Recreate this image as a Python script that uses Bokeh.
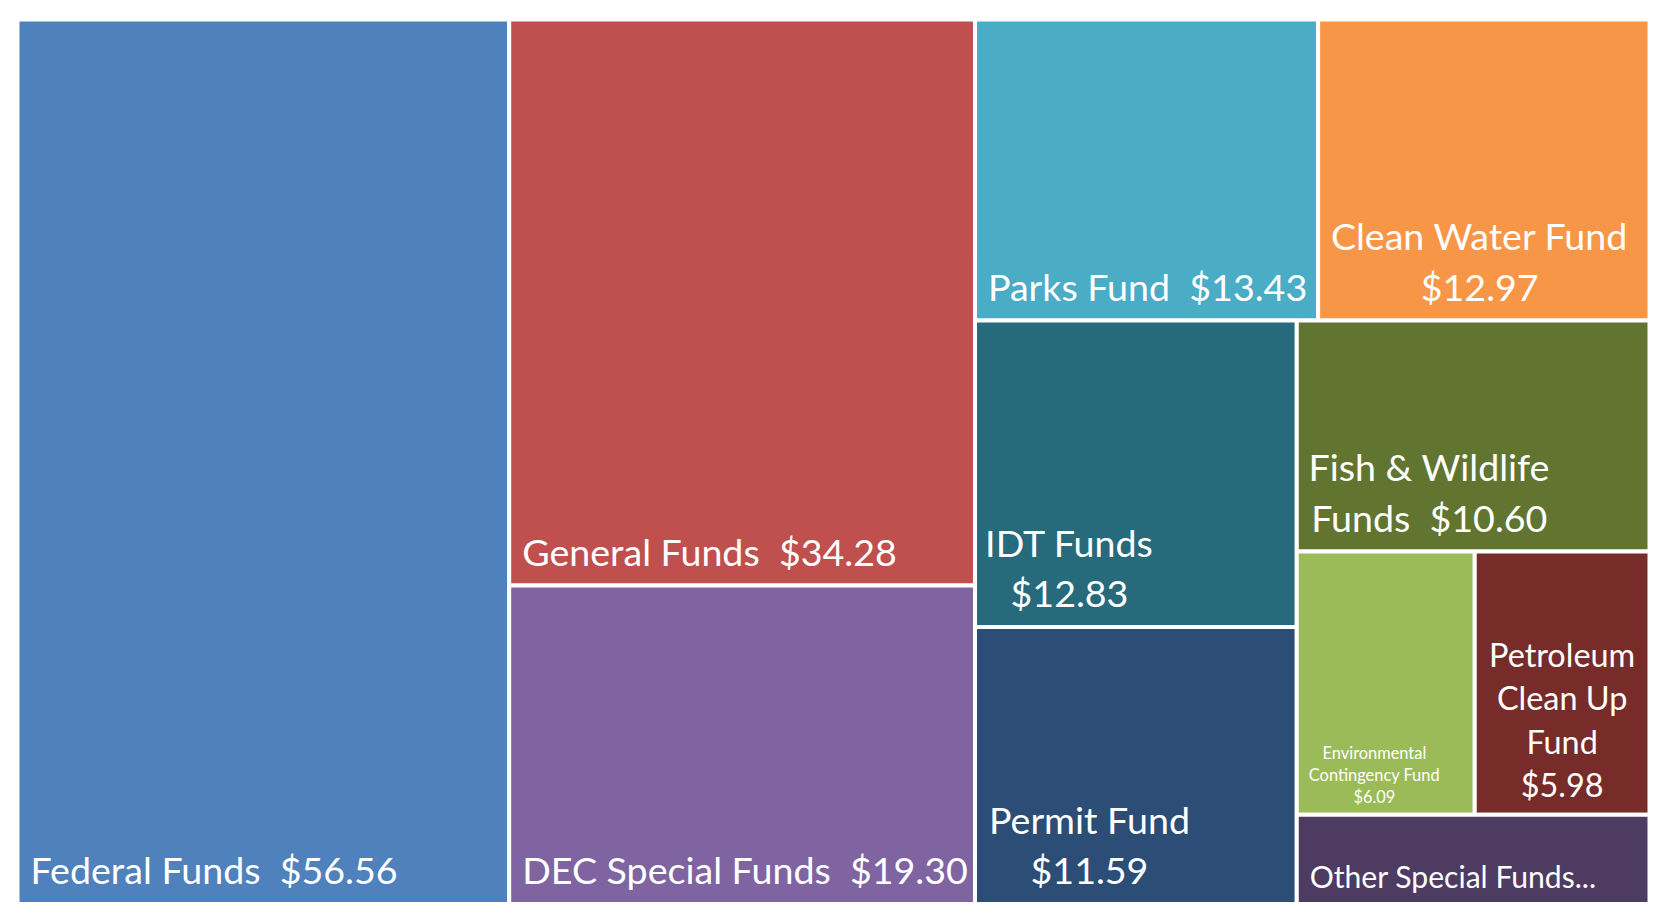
from bokeh.plotting import figure
from bokeh.models import ColumnDataSource, Range1d
from bokeh.embed import file_html
from bokeh.resources import INLINE
from bokeh.core.properties import value

# ---------------- data ----------------
fund_names = ["Federal Funds", "General Funds", "DEC Special Funds", "Parks Fund",
              "Clean Water Fund", "IDT Funds", "Permit Fund", "Fish & Wildlife Funds",
              "Environmental Contingency Fund", "Petroleum Clean Up Fund", "Other Special Funds"]
fund_values = [56.56, 34.28, 19.30, 13.43, 12.97, 12.83, 11.59, 10.60, 6.09, 5.98, 4.10]
# how each label is broken into lines in the chart
name_lines = [["Federal Funds"], ["General Funds"], ["DEC Special Funds"], ["Parks Fund"],
              ["Clean Water Fund"], ["IDT Funds"], ["Permit Fund"], ["Fish & Wildlife", "Funds"],
              ["Environmental", "Contingency Fund"], ["Petroleum", "Clean Up", "Fund"],
              ["Other Special Funds..."]]
# True: value on the last name line, False: value on its own line, None: value not shown
value_inline = [True, True, True, True, False, False, False, True, False, False, None]

# ---------------- styles ----------------
fund_colors = ["#4F81BD", "#C0504D", "#8064A2", "#4BACC6", "#F79646", "#276A7C",
               "#2C4D75", "#617530", "#9BBB59", "#772C2A", "#4D3B62"]
ref_font = [40.7, 40.7, 40.7, 40.7, 40.7, 40.7, 40.7, 40.7, 17.7, 35.0, 32.5]
FONT = "Lato"
FONT_SCALE = 0.925
FIG_W, FIG_H = 1649, 902
W, H = 1632.0, 884.6          # treemap extent (px)
OX, OY = 17, 19               # treemap offset inside figure
GAP = 2.0
PAD = 11.0
SEP = " \u00a0"               # double space between name and value

# Calibri-like advance widths (em) used to centre multi-line label blocks
CW = {' ': .226, '&': .682, '$': .507, '.': .252, 'A': .579, 'C': .533, 'D': .615, 'E': .488,
      'F': .459, 'G': .631, 'I': .252, 'O': .662, 'P': .517, 'S': .459, 'T': .487, 'U': .653,
      'W': .890, 'a': .479, 'c': .423, 'd': .525, 'e': .498, 'f': .305, 'g': .471, 'h': .525,
      'i': .229, 'k': .455, 'l': .229, 'm': .799, 'n': .525, 'o': .527, 'p': .525, 'r': .349,
      's': .391, 't': .335, 'u': .525, 'v': .452, 'y': .453, 'w': .715, '\u00a0': .226}


def text_w(s, fs):
    return sum(CW.get(c, .507) for c in s) * fs


def worst(row, side):
    s = sum(row)
    return max(side * side * max(row) / (s * s), s * s / (side * side * min(row)))


def squarify(areas, x, y, w, h):
    rects, i, n = [], 0, len(areas)
    while i < n:
        vertical = w > h * 1.05
        side = h if vertical else w
        row, j = [areas[i]], i + 1
        while j < n and worst(row + [areas[j]], side) <= worst(row, side):
            row.append(areas[j])
            j += 1
        t = sum(row) / side
        off = 0.0
        for a in row:
            L = a / t
            if vertical:
                rects.append((x, x + t, y + off, y + off + L))
            else:
                rects.append((x + off, x + off + L, y, y + t))
            off += L
        if vertical:
            x += t
            w -= t
        else:
            y += t
            h -= t
        i = j
    return rects


total = sum(fund_values)
areas = [v / total * W * H for v in fund_values]
rects = squarify(areas, 0.0, 0.0, W, H)

tiles = ColumnDataSource(dict(
    left=[r[0] for r in rects], right=[r[1] for r in rects],
    top=[r[2] for r in rects], bottom=[r[3] for r in rects],
    color=fund_colors, name=fund_names, val=fund_values))

# label lines
L_src = dict(x=[], y=[], text=[], size=[])
C_src = dict(x=[], y=[], text=[], size=[])
for i, (r, v) in enumerate(zip(rects, fund_values)):
    lines = list(name_lines[i])
    if value_inline[i] is True:
        lines[-1] = lines[-1] + SEP + "$" + f"{v:.2f}"
    elif value_inline[i] is False:
        lines.append(f"${v:.2f}")
    fs = ref_font[i]
    s_px = fs * FONT_SCALE
    fl, fr, fb = r[0] + GAP, r[1] - GAP, r[3] - GAP
    base = fb - (8.4 + 0.245 * fs) - (0.486 * s_px - 4.4)
    lh = 1.24 * fs
    size = f"{s_px:.1f}px"
    if len(lines) == 1:
        L_src["x"].append(fl + PAD)
        L_src["y"].append(base)
        L_src["text"].append(lines[0])
        L_src["size"].append(size)
    else:
        bw = max(text_w(s, fs) for s in lines)
        cx = fl + PAD + bw / 2
        if bw > (fr - fl) - 2 * PAD:
            cx = (fl + fr) / 2
        n = len(lines)
        for k, s in enumerate(lines):
            C_src["x"].append(cx)
            C_src["y"].append(base - (n - 1 - k) * lh)
            C_src["text"].append(s)
            C_src["size"].append(size)

p = figure(width=FIG_W, height=FIG_H, output_backend="svg", toolbar_location=None,
           x_range=Range1d(-OX, FIG_W - OX), y_range=Range1d(FIG_H - OY, -OY),
           x_axis_type=None, y_axis_type=None, min_border=0,
           background_fill_color="white", border_fill_color="white",
           outline_line_color=None)
p.xgrid.visible = False
p.ygrid.visible = False

p.quad(left="left", right="right", top="top", bottom="bottom", source=tiles,
       fill_color="color", line_color="white", line_width=2 * GAP)

p.text(x="x", y="y", text="text", source=ColumnDataSource(L_src), text_font=value(FONT),
       text_font_size="size", text_color="white", text_align="left",
       text_baseline="alphabetic")
p.text(x="x", y="y", text="text", source=ColumnDataSource(C_src), text_font=value(FONT),
       text_font_size="size", text_color="white", text_align="center",
       text_baseline="alphabetic")

open("out.html", "w").write(file_html(p, INLINE))
